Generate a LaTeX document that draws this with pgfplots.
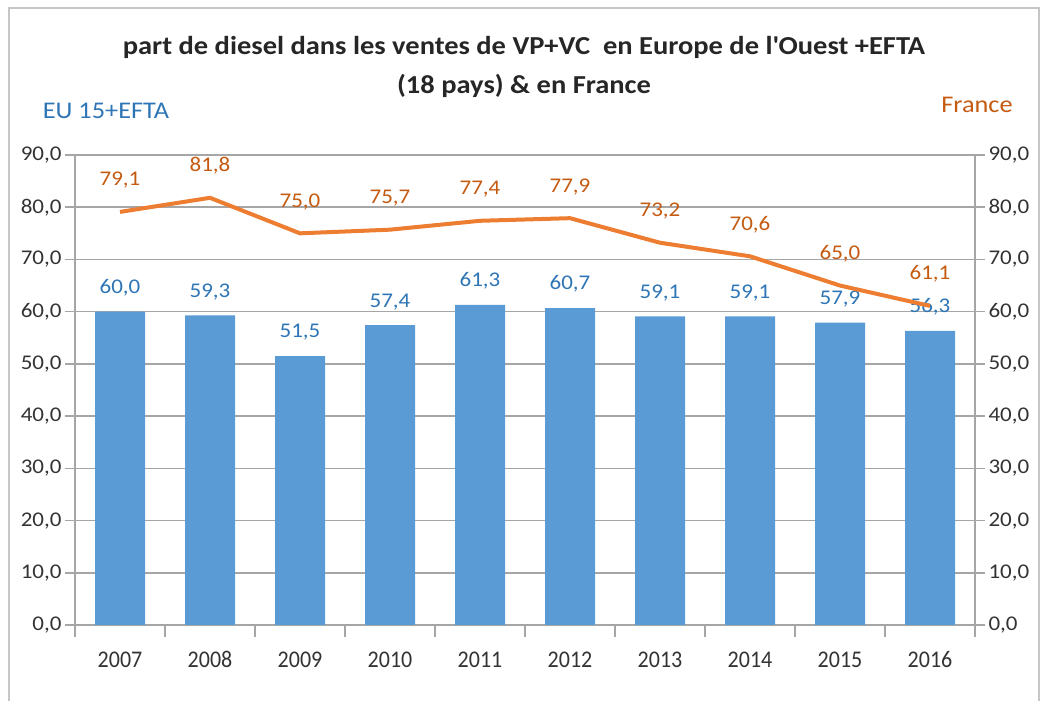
\documentclass[border=0pt]{standalone}
\usepackage{fontspec}
\setmainfont[FakeStretch=1.1]{Carlito}
\newfontfamily\yearfont[FakeStretch=0.92]{Carlito}
\usepackage{pgfplots}
\usepackage{pgfplotstable}
\pgfplotsset{compat=1.18}

\definecolor{barblue}{HTML}{5B9BD5}
\definecolor{lineorange}{HTML}{ED7D31}
\definecolor{lblblue}{HTML}{2E75B6}
\definecolor{lblorange}{HTML}{C55A11}
\definecolor{gridgray}{HTML}{A6A6A6}

% x = category position, eu = EU 15+EFTA (bars), fr = France (line)
\pgfplotstableread{
x year eu fr
1 2007 60.0 79.1
2 2008 59.3 81.8
3 2009 51.5 75.0
4 2010 57.4 75.7
5 2011 61.3 77.4
6 2012 60.7 77.9
7 2013 59.1 73.2
8 2014 59.1 70.6
9 2015 57.9 65.0
10 2016 56.3 61.1
}\data

\pgfplotsset{
  common/.style={
    at={(75bp,76bp)}, anchor=south west,
    scale only axis, width=900bp, height=470bp,
    xmin=0.5, xmax=10.5, ymin=0, ymax=90,
    ytick={0,10,...,90},
    tick align=outside,
    major tick length=10bp,
    tick style={gridgray, line width=1.5bp},
    axis line style={gridgray, line width=1.5bp},
    ticklabel style={font=\fontsize{21}{25}\selectfont, text=black!80},
    /pgf/number format/fixed,
    /pgf/number format/fixed zerofill,
    /pgf/number format/precision=1,
    /pgf/number format/use comma,
    /pgf/number format/assume math mode=true,
  }
}

\begin{document}
\begin{tikzpicture}[x=1bp,y=1bp]
\useasboundingbox (0,0) rectangle (1045,701);
\draw[gray!45, line width=1.5bp] (9,0) -- (9,693) -- (1039,693) -- (1039,0);

\node[font=\fontsize{26}{40}\selectfont\bfseries, align=center, text=black!85] at (524,634)
  {part de diesel dans les ventes de VP+VC\ \ en Europe de l\textquotesingle Ouest +EFTA\\(18 pays) \& en France};
\node[font=\fontsize{24}{28}\selectfont, text=lblblue] at (106,590) {EU 15+EFTA};
\node[font=\fontsize{24}{28}\selectfont, text=lblorange] at (977,596) {France};

\begin{axis}[common,
  axis x line*=bottom, axis y line*=left,
  ymajorgrids, major grid style={gridgray, line width=1.5bp},
  xtick={1,...,10},
  xticklabels={2007,2008,2009,2010,2011,2012,2013,2014,2015,2016},
  major x tick style={draw=none},
  minor xtick={0.5,1.5,...,10.5},
  minor tick length=12bp,
  minor x tick style={gridgray, line width=1.5bp},
  xticklabel style={font=\yearfont\fontsize{24}{28}\selectfont, yshift=-13bp},
]
\addplot[ybar, bar width=50bp, bar shift=0pt, fill=barblue, draw=none,
  nodes near coords,
  every node near coord/.append style={font=\fontsize{21}{25}\selectfont, text=lblblue, yshift=12bp}]
  table[x=x, y=eu] {\data};
\end{axis}

\begin{axis}[common,
  axis x line=none, axis y line*=right,
]
\addplot[lineorange, line width=4bp, sharp plot, mark=none,
  nodes near coords,
  every node near coord/.append style={font=\fontsize{21}{25}\selectfont, text=lblorange, yshift=18bp}]
  table[x=x, y=fr] {\data};
\end{axis}
\end{tikzpicture}
\end{document}
